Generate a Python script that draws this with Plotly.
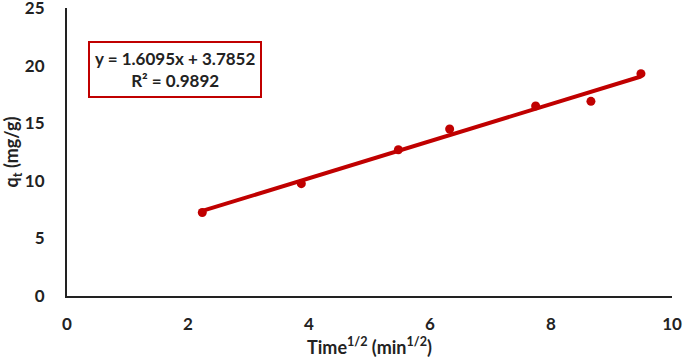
import plotly.graph_objects as go

# Data
time_sqrt = [2.236, 3.873, 5.477, 6.325, 7.746, 8.660, 9.487]
qt_values = [7.25, 9.75, 12.7, 14.5, 16.5, 16.9, 19.3]

# Linear fit shown on the chart
slope = 1.6095
intercept = 3.7852
r2 = 0.9892

x_ticks = [0, 2, 4, 6, 8, 10]
y_ticks = [0, 5, 10, 15, 20, 25]

red = "#C00000"
font_family = "Lato, 'Open Sans', Arial, sans-serif"

fit_x = [min(time_sqrt), max(time_sqrt)]
fit_y = [slope * v + intercept for v in fit_x]

fig = go.Figure()
fig.add_trace(go.Scatter(x=time_sqrt, y=qt_values, mode="markers",
                         marker=dict(color=red, size=9), showlegend=False))
fig.add_trace(go.Scatter(x=fit_x, y=fit_y, mode="lines",
                         line=dict(color=red, width=4), showlegend=False))

fig.update_layout(
    width=685, height=362,
    margin=dict(l=67, r=13, t=8, b=66),
    paper_bgcolor="white", plot_bgcolor="white",
    font=dict(family=font_family, size=17, color="#222222"),
    xaxis=dict(range=[0, 10], tickvals=x_ticks, showgrid=False, zeroline=False,
               showline=True, linecolor="#222222", linewidth=2,
               ticks="", ticklabelstandoff=12, automargin=False,
               ticklabeloverflow="allow",
               tickfont=dict(size=17, family=font_family, weight="bold"),
               title=dict(text="Time<sup>1/2</sup> (min<sup>1/2</sup>)", standoff=6,
                          font=dict(size=18, family=font_family, weight="bold"))),
    yaxis=dict(range=[0, 25], tickvals=y_ticks, showgrid=False, zeroline=False,
               showline=True, linecolor="#222222", linewidth=2,
               ticks="", ticklabelstandoff=17, automargin=False,
               ticklabeloverflow="allow",
               tickfont=dict(size=17, family=font_family, weight="bold"),
               title=dict(text="q<sub>t</sub> (mg/g)", standoff=8,
                          font=dict(size=18, family=font_family, weight="bold"))),
    annotations=[dict(
        x=0.1785, y=0.785, xref="paper", yref="paper",
        xanchor="center", yanchor="middle",
        text=f"y = {slope}x + {intercept}<br>R² = {r2}",
        showarrow=False, align="center",
        font=dict(size=17, family=font_family, weight="bold", color="#222222"),
        bordercolor=red, borderwidth=2, borderpad=5, bgcolor="white")],
)

fig.write_html("out.html",
               config={"displayModeBar": False},
               post_script="document.body.style.margin='0px';document.body.style.overflow='hidden';")
